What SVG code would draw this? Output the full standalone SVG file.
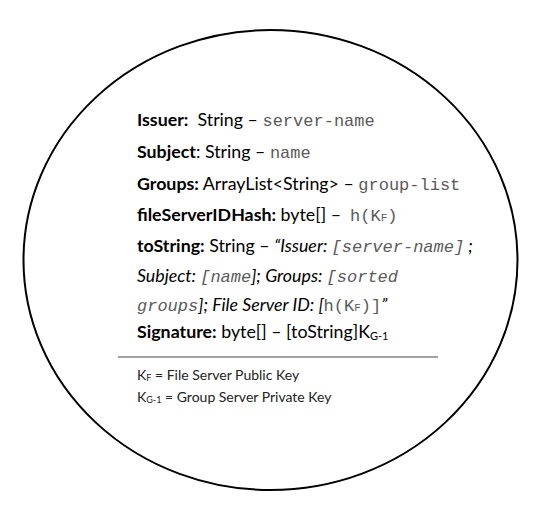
<svg xmlns="http://www.w3.org/2000/svg" width="542" height="505" viewBox="0 0 542 505">
<style>
.t{font-family:Lato,"Open Sans","Liberation Sans",sans-serif;font-size:17.8px;fill:#000}
.b{font-weight:bold}
.i{font-style:italic}
.m{font-family:"Liberation Mono","Courier New",monospace;font-size:17px;fill:#5a5a5a;font-style:normal;font-weight:normal}
.mi{font-family:"Liberation Mono","Courier New",monospace;font-size:17px;fill:#5a5a5a;font-style:italic;font-weight:normal}
.s{font-size:11px}
.l{font-family:Lato,"Open Sans","Liberation Sans",sans-serif;font-size:14px;fill:#222}
</style>
<g id="ellipse"><ellipse cx="270.5" cy="260" rx="247" ry="230" fill="#fff" stroke="#000" stroke-width="2"/></g>
<g id="fields">
<text class="t" x="137" y="126" xml:space="preserve"><tspan class="b">Issuer:</tspan>  String – <tspan class="m">server-name</tspan></text>
<text class="t" x="137" y="158"><tspan class="b">Subject</tspan>: String – <tspan class="m">name</tspan></text>
<text class="t" x="137" y="190"><tspan class="b">Groups:</tspan> ArrayList&lt;String&gt; – <tspan class="m">group-list</tspan></text>
<text class="t" x="137" y="221" xml:space="preserve"><tspan class="b">fileServerIDHash:</tspan> byte[] –  <tspan class="m">h(K<tspan class="s">F</tspan>)</tspan></text>
<text class="t" x="137" y="252"><tspan class="b">toString:</tspan> String – <tspan class="i">“Issuer: </tspan><tspan class="mi">[server-name]</tspan><tspan class="i"> ;</tspan></text>
<text class="t i" x="137" y="282">Subject: <tspan class="mi">[name</tspan>]; Groups: <tspan class="mi">[sorted</tspan></text>
<text class="t i" x="137" y="311"><tspan class="mi">groups</tspan>]; File Server ID: [<tspan class="m">h(K<tspan class="s">F</tspan>)]</tspan>”</text>
<text class="t" x="137" y="338"><tspan class="b">Signature:</tspan> byte[] – [toString]K<tspan class="s" dy="2">G-1</tspan></text>
</g>
<g id="legend">
<line x1="118" y1="357" x2="438" y2="357" stroke="#444" stroke-width="1"/>
<text class="l" x="137" y="380">K<tspan font-size="9" dy="1">F</tspan><tspan dy="-1"> = File Server Public Key</tspan></text>
<text class="l" x="137" y="402">K<tspan font-size="9" dy="1">G-1</tspan><tspan dy="-1"> = Group Server Private Key</tspan></text>
</g>
</svg>
